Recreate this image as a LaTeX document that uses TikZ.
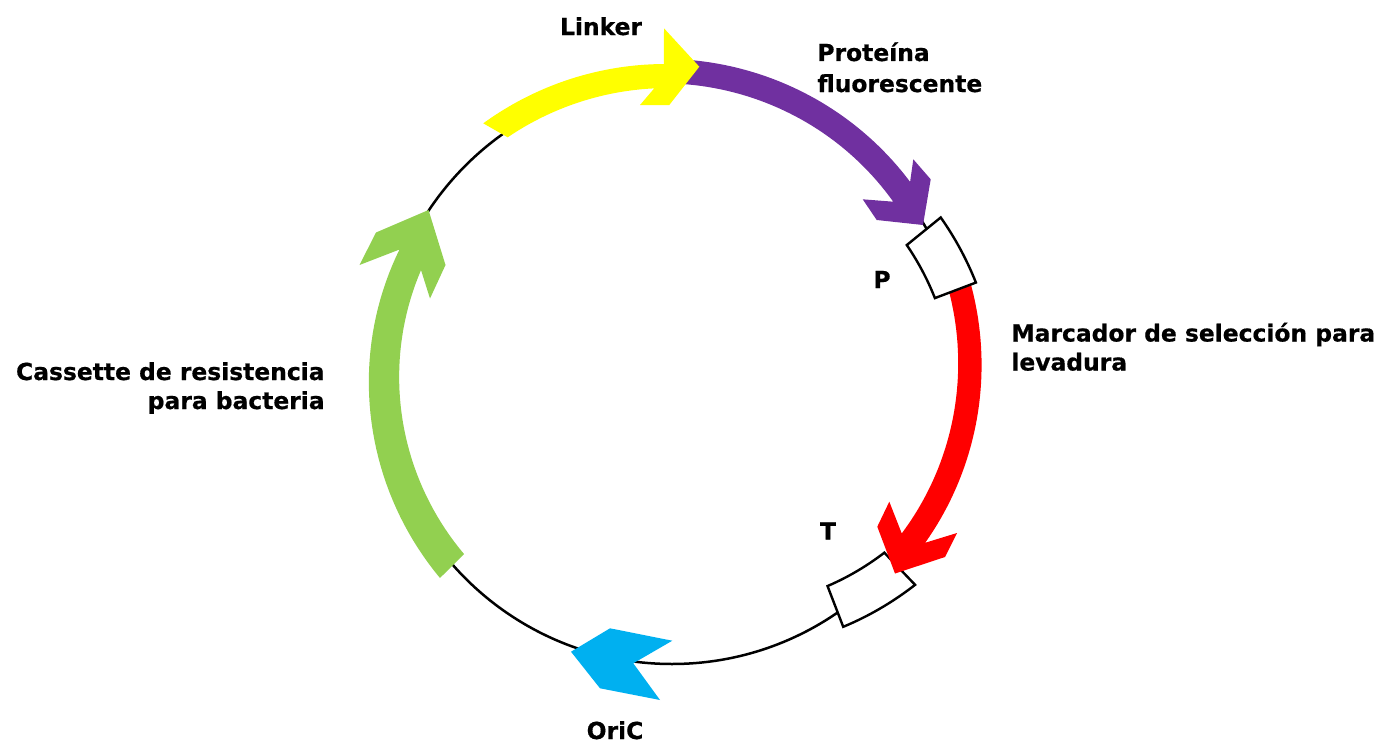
\documentclass[tikz,border=0pt]{standalone}
\usepackage{fontspec}
\setmainfont{DejaVu Sans}[BoldFeatures={FakeBold=0.6}]

\definecolor{yel}{HTML}{FFFF00}
\definecolor{pur}{HTML}{7030A0}
\definecolor{redc}{HTML}{FF0000}
\definecolor{grn}{HTML}{92D050}
\definecolor{blu}{HTML}{00B0F0}

\tikzset{
  lbl/.style={font=\fontsize{11.7}{14}\selectfont\bfseries, inner sep=0pt},
  backbone/.style={draw=black, line width=1.25pt},
  regbox/.style={draw=black, fill=white, line width=1.2pt, line join=miter},
  declare function={
    lin(\t,\a,\ra,\b,\rb)=(\ra)+((\rb)-(\ra))*((\t)-(\a))/((\b)-(\a));
  }
}

\begin{document}
\begin{tikzpicture}[x=0.5pt, y=-0.5pt, samples=40]
\useasboundingbox (0,0) rectangle (1388,744);

% plasmid backbone
\coordinate (ctr) at (672,372);
\draw[backbone] (ctr) circle[radius=146pt];

% fluorescent protein (purple arc arrow), its tail tucked under the linker head
\fill[pur]
  plot[domain=-89.5:-38.6] ({672+lin(\x,-89.5,313,-38.6,304.7)*cos(\x)},{372+lin(\x,-89.5,313,-38.6,304.7)*sin(\x)})
  -- (913.3,159.3) -- (930.7,179.3) -- (923,225) -- (876.7,220) -- (862.7,199.3) -- (893.3,201.7)
  -- plot[domain=-37.6:-89.5] ({672+lin(\x,-37.6,279.2,-89.5,288.5)*cos(\x)},{372+lin(\x,-37.6,279.2,-89.5,288.5)*sin(\x)})
  -- cycle;

% linker (yellow arc arrow)
\fill[yel]
  plot[domain=-127.2:-91.5] ({672+lin(\x,-127.2,312.2,-91.5,308.1)*cos(\x)},{372+lin(\x,-127.2,312.2,-91.5,308.1)*sin(\x)})
  -- (664,28.3) -- (699.3,66.7) -- (669.3,105) -- (640,105) -- (654.3,88.3)
  -- plot[domain=-93.6:-125] ({672+lin(\x,-93.6,284.2,-125,286.5)*cos(\x)},{372+lin(\x,-93.6,284.2,-125,286.5)*sin(\x)})
  -- cycle;

% terminator box
\draw[regbox]
  plot[domain=41.2:56.1] ({672+lin(\x,41.2,323.1,56.1,307)*cos(\x)},{372+lin(\x,41.2,323.1,56.1,307)*sin(\x)})
  -- plot[domain=54:40.4] ({672+lin(\x,54,264.6,40.4,278.8)*cos(\x)},{372+lin(\x,54,264.6,40.4,278.8)*sin(\x)})
  -- cycle;

% yeast selection marker (red arc arrow)
\fill[redc]
  plot[domain=-18:34] ({672+lin(\x,-18,311.7,34,305.4)*cos(\x)},{372+lin(\x,-18,311.7,34,305.4)*sin(\x)})
  -- (957,533) -- (945,557) -- (895,573.5) -- (877.3,526.7) -- (889.3,501.7) -- (901.7,533.3)
  -- plot[domain=35:-18] ({672+lin(\x,35,280.8,-18,288.8)*cos(\x)},{372+lin(\x,35,280.8,-18,288.8)*sin(\x)})
  -- cycle;

% promoter box
\draw[regbox]
  plot[domain=-29.9:-16.4] ({672+lin(\x,-29.9,310,-16.4,316.8)*cos(\x)},{372+lin(\x,-29.9,310,-16.4,316.8)*sin(\x)})
  -- plot[domain=-15.7:-28.4] ({672+lin(\x,-15.7,273.1,-28.4,266.9)*cos(\x)},{372+lin(\x,-15.7,273.1,-28.4,266.9)*sin(\x)})
  -- cycle;

% bacterial resistance cassette (green arc arrow)
\fill[grn]
  plot[domain=138.4:204.2] ({672+lin(\x,138.4,310.3,204.2,298.8)*cos(\x)},{372+lin(\x,138.4,310.3,204.2,298.8)*sin(\x)})
  -- (359.5,265) -- (376,232.5) -- (428.5,210) -- (445.5,265) -- (430,298.5) -- (421,270)
  -- plot[domain=202.1:138.8] ({672+lin(\x,202.1,270.9,138.8,276.4)*cos(\x)},{372+lin(\x,202.1,270.9,138.8,276.4)*sin(\x)})
  -- cycle;

% origin of replication (blue chevron)
\fill[blu] (571,651.7) -- (610,628.3) -- (672.3,640.7) -- (633.3,663.3) -- (660,700) -- (600,688.3) -- cycle;

% labels
\node[lbl, anchor=base] (linker) at (601,35) {Linker};
\node[lbl, anchor=base west] (fp1) at (817,61) {Proteína};
\node[lbl, anchor=base west] (fp2) at (817,92) {fluorescente};
\node[lbl, anchor=base] (plbl) at (882,288) {P};
\node[lbl, anchor=base west] (mk1) at (1011,341.5) {Marcador de selección para};
\node[lbl, anchor=base west] (mk2) at (1011,370.5) {levadura};
\node[lbl, anchor=base east] (cs1) at (325,380) {Cassette de resistencia};
\node[lbl, anchor=base east] (cs2) at (325,409) {para bacteria};
\node[lbl, anchor=base] (tlbl) at (828,539.5) {T};
\node[lbl, anchor=base] (ori) at (615,739) {OriC};
\end{tikzpicture}
\end{document}
